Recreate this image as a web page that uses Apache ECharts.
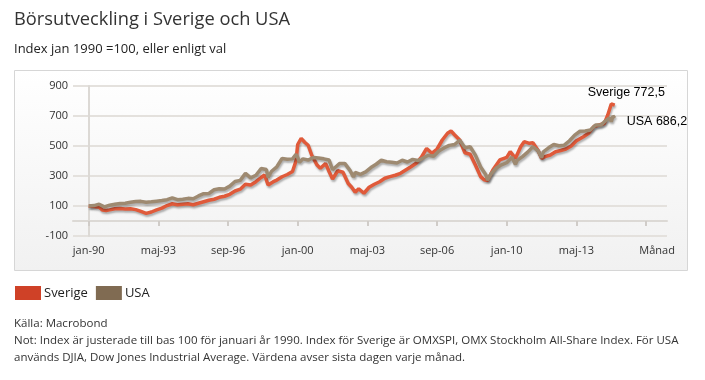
<!DOCTYPE html>
<html>
<head>
<meta charset="utf-8">
<script src="https://cdn.jsdelivr.net/npm/echarts@6/dist/echarts.min.js"></script>
<style>
html,body{margin:0;padding:0;background:#fff;}
#c{width:705px;height:380px;}
</style>
</head>
<body>
<div id="c"></div>
<script>
// Tick positions (months after jan-90) and their labels
const tickMonths = [0, 40, 80, 120, 160, 200, 240, 280, 320];
const tickLabels = ['jan-90', 'maj-93', 'sep-96', 'jan-00', 'maj-03', 'sep-06', 'jan-10', 'maj-13', 'Månad'];

// Sverige (OMXSPI), index jan 1990 = 100; months after jan-90
const sverigeMonths = [0,3,6,8,10,12,15,18,21,24,27,30,33,36,39,42,45,48,51,54,57,60,63,66,69,72,75,78,81,84,87,90,93,96,99,101,103,106,108,111,114,117,119,120,122,124,126,128,131,133,136,138,140,143,146,149,151,153,155,158,161,164,167,170,173,176,179,182,185,188,191,194,197,200,203,206,208,210,213,216,219,222,225,227,229,232,236,240,242,245,248,250,253,255,258,260,262,265,268,271,274,277,280,284,287,290,293,296,298,300,302];
const sverigeValues = [100,96,92,73,70,74,82,84,80,82,76,64,51,60,74,86,103,115,108,112,115,108,118,128,138,145,158,165,178,200,212,245,240,262,290,307,240,262,273,295,310,330,400,510,551,525,505,440,375,351,384,330,280,335,325,250,225,192,215,185,225,245,262,285,296,305,318,340,362,385,425,484,451,480,540,585,600,575,540,455,445,373,296,275,270,340,407,424,462,418,495,529,518,522,470,418,429,440,462,470,480,500,535,562,585,630,640,650,707,780,772.5];

// USA (DJIA), index jan 1990 = 100
const usaMonths = [0,3,6,9,12,15,18,21,24,27,30,33,36,39,42,45,48,51,54,57,60,63,66,69,72,75,78,81,84,87,90,93,96,99,102,103,105,108,111,114,117,119,120,121,123,126,129,132,135,138,140,141,144,147,150,152,153,156,159,162,165,168,171,174,177,180,183,186,189,192,195,198,201,204,207,210,213,216,219,222,225,228,229,231,234,237,240,243,245,246,249,252,255,258,260,261,264,267,270,273,276,279,282,285,288,291,294,297,299,300,301,302];
const usaValues = [100,102.6,112.1,94.3,105.6,111.5,116.8,118.5,124.4,129.7,131,124.5,127.8,132.3,136.6,142.1,153.6,142.1,145.3,150.9,148.4,166.8,181.8,183.6,208.3,215,213.4,232.7,263,270.6,317.4,287.3,305.2,349.9,342.9,291,331.7,361.3,416.5,411.3,414.2,443.8,422.3,391,414.4,406.2,423.5,420.3,414.4,406.2,341.5,350.3,382.9,383.9,337.3,293.1,324.1,310.9,327.3,356.4,378.3,404.9,394.7,391.4,387.1,404.9,393.4,410.8,403,419.4,438.8,431.8,466.3,487.2,504.2,510,537.7,488.3,494.9,439.2,360,308.8,272.6,315.3,354,374.9,388.6,425,377.3,404,429.2,459.1,494.5,468.7,421.3,461.5,487.7,510.1,502.2,505.6,535,572.9,598.3,600.1,606,640,639.4,671.3,688,662.6,700,686.2];

const seriesNames = ['Sverige', 'USA'];

const chart = echarts.init(document.getElementById('c'), null, {renderer: 'canvas'});
const pair = (ms, vs) => ms.map((m, i) => [m, vs[i]]);
const fmt = p => p.seriesName + ' ' + String(p.value[1]).replace('.', ',');
const labelFor = v => {
  const i = tickMonths.indexOf(v);
  if (i < 0) return '';
  return i === tickLabels.length - 1 ? '{end|' + tickLabels[i] + '}' : tickLabels[i];
};
const FONT = '"Open Sans", "Noto Sans", sans-serif';

chart.setOption({
  animation: false,
  backgroundColor: '#ffffff',
  textStyle: {fontFamily: FONT},
  graphic: [
    {type: 'rect', z: -10, shape: {x: 14.5, y: 70.5, width: 673, height: 200},
     style: {stroke: '#d6d6d6', lineWidth: 1,
       fill: new echarts.graphic.LinearGradient(0, 0, 0, 1, [{offset: 0, color: '#ffffff'}, {offset: 1, color: '#f1f1f1'}])}},
    {type: 'text', left: 14, top: 11, style: {text: 'Börsutveckling i Sverige och USA', font: '18.3px "Open Sans"', fill: '#333333'}},
    {type: 'text', left: 14, top: 43, style: {text: 'Index jan 1990 =100, eller enligt val', font: '13px "Open Sans"', fill: '#222222'}},
    {type: 'text', left: 14, top: 318, style: {text: 'Källa: Macrobond', font: '11.5px "Open Sans"', fill: '#333333'}},
    {type: 'text', left: 14, top: 335, style: {text: 'Not: Index är justerade till bas 100 för januari år 1990. Index för Sverige är OMXSPI, OMX Stockholm All-Share Index. För USA', font: '11.5px "Open Sans"', fill: '#333333'}},
    {type: 'text', left: 14, top: 352, style: {text: 'används DJIA, Dow Jones Industrial Average. Värdena avser sista dagen varje månad.', font: '11.5px "Open Sans"', fill: '#333333'}}
  ],
  legend: {
    left: 10, top: 281, icon: 'rect', itemWidth: 26, itemHeight: 14, itemGap: 8,
    textStyle: {fontSize: 13, color: '#222', fontFamily: FONT, padding: [0, 0, 0, -2]},
    data: [
      {name: seriesNames[0], itemStyle: {color: '#cf4127'}},
      {name: seriesNames[1], itemStyle: {color: '#806b52'}}
    ]
  },
  grid: {left: 73, right: 38, top: 86, bottom: 144, containLabel: false},
  xAxis: {
    type: 'value', min: -9, max: 332,
    axisLine: {show: true, lineStyle: {color: '#dcd9d5', width: 2}},
    axisTick: {show: true, customValues: tickMonths, length: 5, lineStyle: {color: '#d0ccc8', width: 2}},
    axisLabel: {customValues: tickMonths, formatter: labelFor, fontSize: 11, color: '#333', margin: 9,
      fontFamily: FONT, rich: {end: {fontSize: 11, color: '#333', padding: [0, 0, 0, 22], fontFamily: FONT}}},
    splitLine: {show: false}
  },
  yAxis: {
    type: 'value', min: -100, max: 900, interval: 200,
    axisLine: {show: true, lineStyle: {color: '#dcd9d5', width: 2}},
    axisTick: {show: false},
    axisLabel: {fontSize: 11, color: '#333', margin: 5, fontFamily: FONT},
    splitLine: {show: true, lineStyle: {color: '#e4e1dd', width: 2}}
  },
  series: [
    {
      name: seriesNames[0], type: 'line', showSymbol: false, z: 2,
      data: pair(sverigeMonths, sverigeValues),
      color: '#cf4127',
      lineStyle: {color: '#e05a3a', width: 3.5, shadowColor: 'rgba(0,0,0,0.3)', shadowBlur: 2, shadowOffsetX: 1, shadowOffsetY: 2},
      endLabel: {show: true, formatter: fmt, offset: [-35, -13], fontFamily: '"Liberation Sans", Arial, sans-serif', fontSize: 12.5, color: '#000'}
    },
    {
      name: seriesNames[1], type: 'line', showSymbol: false, z: 3,
      data: pair(usaMonths, usaValues),
      color: '#806b52',
      lineStyle: {color: '#9e8a71', width: 3.5, shadowColor: 'rgba(0,0,0,0.3)', shadowBlur: 2, shadowOffsetX: 1, shadowOffsetY: 2},
      endLabel: {show: true, formatter: fmt, offset: [4, 3], fontFamily: '"Liberation Sans", Arial, sans-serif', fontSize: 12.5, color: '#000'}
    }
  ]
});
</script>
</body>
</html>
